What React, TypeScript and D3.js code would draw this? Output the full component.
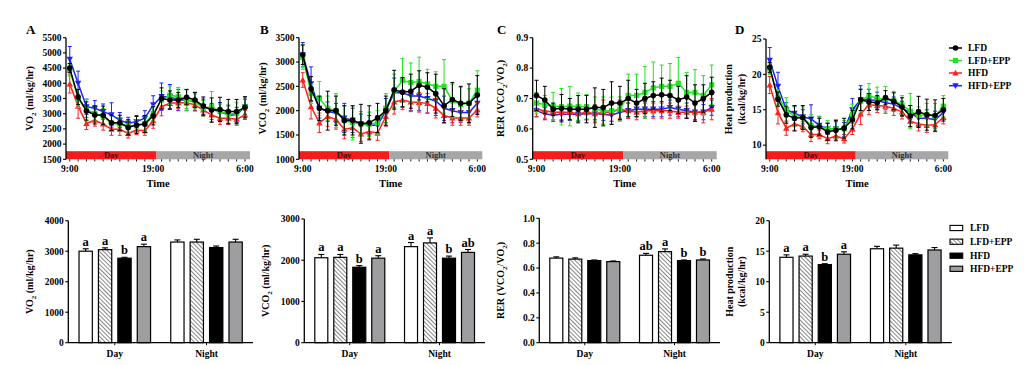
import React from 'react';
import * as d3 from 'd3';

// fonts / colours
const FONT = '"Liberation Serif", "Times New Roman", serif';
const groups = ['LFD', 'LFD+EPP', 'HFD', 'HFD+EPP'];
const lineColors = ['#000000', '#1ee61e', '#ff2020', '#2020ff'];
const barFills = ['#ffffff', 'url(#hatch)', '#000000', '#9e9ea0'];

// time axis (hourly points, 9:00 -> 6:00)
const timePoints = [0, 1, 2, 3, 4, 5, 6, 7, 8, 9, 10, 11, 12, 13, 14, 15, 16, 17, 18, 19, 20, 21];
const timeTickPos = [0, 10, 21];
const timeTickLabels = ['9:00', '19:00', '6:00'];

// ---- A: VO2 time course ----
const vo2LFD = [4500, 3550, 3090, 2960, 2950, 2700, 2700, 2550, 2630, 2660, 2930, 3500, 3450, 3450, 3540, 3450, 3250, 3120, 3140, 3070, 3070, 3210];
const vo2LFDEPP = [4440, 3500, 3120, 3010, 2920, 2680, 2660, 2600, 2600, 2680, 3010, 3450, 3610, 3560, 3450, 3400, 3180, 3230, 3070, 2990, 3010, 3230];
const vo2HFD = [3980, 3250, 2680, 2790, 2660, 2490, 2490, 2350, 2460, 2440, 2770, 3230, 3340, 3360, 3360, 3290, 3120, 2960, 2850, 2850, 2820, 2960];
const vo2HFDEPP = [4790, 4000, 3230, 3180, 3070, 2960, 2790, 2680, 2740, 2850, 3290, 3560, 3560, 3450, 3450, 3400, 3230, 3140, 3070, 2960, 2960, 3230];
const vo2LFDErr = [150, 250, 300, 300, 300, 250, 250, 250, 280, 280, 300, 350, 300, 250, 250, 250, 300, 400, 400, 400, 400, 350];
const vo2LFDEPPErr = [200, 300, 350, 250, 250, 250, 200, 200, 200, 250, 250, 300, 300, 300, 350, 250, 250, 500, 250, 300, 350, 300];
const vo2HFDErr = [300, 400, 200, 200, 200, 200, 200, 150, 150, 150, 250, 300, 200, 200, 200, 200, 200, 150, 200, 200, 200, 150];
const vo2HFDEPPErr = [420, 400, 250, 250, 250, 400, 250, 200, 200, 250, 300, 450, 400, 350, 350, 300, 250, 200, 300, 300, 250, 250];

// ---- B: VCO2 time course ----
const vco2LFD = [3150, 2450, 2050, 2000, 2000, 1800, 1800, 1730, 1750, 1850, 2000, 2430, 2380, 2400, 2520, 2480, 2350, 2100, 2230, 2150, 2150, 2320];
const vco2LFDEPP = [3100, 2350, 2250, 2050, 2000, 1800, 1750, 1730, 1720, 1750, 2050, 2400, 2620, 2580, 2600, 2550, 2500, 2500, 2200, 2130, 2150, 2420];
const vco2HFD = [2630, 2080, 1750, 1880, 1820, 1620, 1650, 1520, 1570, 1540, 1880, 2180, 2220, 2180, 2170, 2150, 2050, 1900, 1850, 1850, 1850, 2020];
const vco2HFDEPP = [3150, 2550, 2050, 1980, 1950, 1850, 1800, 1730, 1700, 1700, 2000, 2370, 2370, 2300, 2300, 2250, 2200, 2050, 2000, 1960, 1960, 2150];
const vco2LFDErr = [200, 250, 250, 400, 300, 300, 300, 400, 350, 300, 300, 400, 300, 350, 300, 300, 400, 350, 350, 350, 400, 400];
const vco2LFDEPPErr = [250, 200, 350, 250, 350, 300, 350, 250, 250, 250, 300, 350, 450, 400, 500, 300, 300, 550, 350, 350, 300, 400];
const vco2HFDErr = [150, 250, 200, 200, 200, 200, 200, 150, 150, 150, 200, 250, 200, 200, 200, 200, 200, 150, 150, 150, 150, 150];
const vco2HFDEPPErr = [250, 350, 200, 200, 200, 300, 250, 200, 200, 200, 250, 300, 300, 300, 300, 300, 300, 250, 250, 200, 200, 200];

// ---- C: RER time course ----
const rerLFD = [0.71, 0.695, 0.665, 0.668, 0.665, 0.665, 0.665, 0.67, 0.67, 0.685, 0.685, 0.7, 0.685, 0.7, 0.71, 0.712, 0.71, 0.695, 0.705, 0.685, 0.7, 0.72];
const rerLFDEPP = [0.685, 0.68, 0.675, 0.673, 0.675, 0.673, 0.673, 0.665, 0.66, 0.66, 0.665, 0.71, 0.71, 0.72, 0.735, 0.74, 0.74, 0.75, 0.72, 0.72, 0.71, 0.745];
const rerHFD = [0.665, 0.66, 0.655, 0.655, 0.655, 0.65, 0.655, 0.65, 0.655, 0.655, 0.665, 0.66, 0.655, 0.66, 0.66, 0.66, 0.66, 0.655, 0.655, 0.655, 0.655, 0.665];
const rerHFDEPP = [0.66, 0.65, 0.645, 0.648, 0.648, 0.648, 0.65, 0.65, 0.648, 0.645, 0.655, 0.66, 0.665, 0.665, 0.665, 0.665, 0.67, 0.665, 0.66, 0.655, 0.655, 0.67];
const rerLFDErr = [0.05, 0.045, 0.02, 0.045, 0.035, 0.045, 0.045, 0.065, 0.06, 0.07, 0.055, 0.06, 0.045, 0.05, 0.045, 0.055, 0.05, 0.045, 0.07, 0.06, 0.045, 0.05];
const rerLFDEPPErr = [0.035, 0.03, 0.045, 0.06, 0.065, 0.045, 0.04, 0.04, 0.045, 0.045, 0.04, 0.07, 0.07, 0.085, 0.085, 0.07, 0.075, 0.085, 0.065, 0.075, 0.065, 0.065];
const rerHFDErr = [0.025, 0.025, 0.025, 0.025, 0.025, 0.025, 0.025, 0.03, 0.04, 0.03, 0.03, 0.025, 0.025, 0.025, 0.025, 0.025, 0.025, 0.02, 0.02, 0.03, 0.035, 0.035];
const rerHFDEPPErr = [0.02, 0.02, 0.02, 0.02, 0.02, 0.02, 0.02, 0.02, 0.02, 0.02, 0.025, 0.025, 0.025, 0.025, 0.025, 0.025, 0.025, 0.025, 0.025, 0.025, 0.025, 0.025];

// ---- D: heat production time course ----
const heatLFD = [21.0, 16.5, 14.3, 13.8, 13.9, 12.5, 12.6, 11.9, 12.1, 12.4, 13.6, 16.4, 16.1, 16.0, 16.7, 16.2, 15.4, 14.1, 14.7, 14.3, 14.2, 15.0];
const heatLFDEPP = [20.8, 16.8, 15.0, 14.0, 13.9, 12.8, 12.6, 12.3, 12.3, 12.3, 14.3, 16.3, 17.0, 16.6, 16.5, 16.3, 15.7, 14.8, 14.2, 14.3, 14.1, 15.5];
const heatHFD = [18.5, 14.6, 12.4, 13.0, 12.6, 11.5, 11.5, 10.9, 11.3, 10.9, 12.3, 14.4, 15.7, 15.6, 15.5, 15.2, 14.7, 13.4, 13.0, 12.8, 12.9, 13.9];
const heatHFDEPP = [22.0, 18.3, 15.0, 14.5, 14.0, 13.7, 12.8, 12.3, 12.3, 12.2, 15.0, 16.4, 16.4, 16.3, 16.0, 15.8, 15.2, 14.6, 13.8, 13.8, 13.6, 14.6];
const heatLFDErr = [0.7, 1.0, 1.2, 1.8, 1.7, 1.4, 1.2, 1.2, 1.4, 1.4, 1.3, 1.5, 1.2, 1.0, 1.0, 1.2, 1.3, 1.5, 2.2, 2.2, 2.2, 1.6];
const heatLFDEPPErr = [0.8, 1.0, 1.7, 1.4, 1.5, 1.5, 1.5, 1.2, 1.3, 1.2, 1.5, 1.6, 1.7, 1.6, 1.8, 1.3, 1.3, 2.5, 1.2, 1.6, 1.8, 1.5];
const heatHFDErr = [1.2, 1.6, 1.0, 0.9, 0.7, 1.0, 0.6, 0.7, 0.7, 0.6, 0.8, 1.5, 1.4, 1.0, 1.0, 1.0, 1.0, 0.8, 1.0, 1.0, 1.0, 0.9];
const heatHFDEPPErr = [1.8, 2.0, 1.0, 1.0, 1.0, 2.0, 1.2, 0.8, 1.0, 1.0, 1.6, 2.0, 1.5, 1.2, 1.0, 1.0, 1.0, 1.0, 1.2, 1.2, 1.2, 1.0];

// ---- bottom row: Day / Night means ----
const periods = ['Day', 'Night'];
const vo2DayMean = [3000, 3050, 2770, 3150];
const vo2DaySem = [80, 60, 30, 80];
const vo2NightMean = [3300, 3300, 3120, 3300];
const vo2NightSem = [70, 90, 50, 90];
const vo2DayLetters = ['a', 'a', 'b', 'a'];
const vo2NightLetters = ['', '', '', ''];

const vco2DayMean = [2060, 2070, 1830, 2050];
const vco2DaySem = [80, 70, 40, 60];
const vco2NightMean = [2330, 2420, 2050, 2190];
const vco2NightSem = [100, 120, 50, 70];
const vco2DayLetters = ['a', 'a', 'b', 'a'];
const vco2NightLetters = ['a', 'a', 'b', 'ab'];

const rerDayMean = [0.68, 0.672, 0.66, 0.652];
const rerDaySem = [0.01, 0.01, 0.005, 0.005];
const rerNightMean = [0.703, 0.732, 0.66, 0.665];
const rerNightSem = [0.015, 0.022, 0.005, 0.008];
const rerDayLetters = ['', '', '', ''];
const rerNightLetters = ['ab', 'a', 'b', 'b'];

const heatDayMean = [14.0, 14.2, 12.8, 14.5];
const heatDaySem = [0.4, 0.3, 0.15, 0.4];
const heatNightMean = [15.4, 15.5, 14.4, 15.2];
const heatNightSem = [0.4, 0.5, 0.2, 0.4];
const heatDayLetters = ['a', 'a', 'b', 'a'];
const heatNightLetters = ['', '', '', ''];

// layout
const TOP_BOTTOM = 159.3;
const BAR_BOTTOM = 342.7;
const drawOrder = [3, 2, 1, 0];

// axis titles as text segments ([text, isSubscript])
const vo2Label = [[['VO', false], ['2', true], [' (ml/kg/hr)', false]]];
const vco2Label = [[['VCO', false], ['2', true], [' (ml/kg/hr)', false]]];
const rerLabel = [[['RER (VCO', false], ['2', true], ['/VO', false], ['2', true], [')', false]]];
const heatLabel = [[['Heat production', false]], [['(kcal/kg/hr)', false]]];

const Marker = ({ k, cx, cy, color }: any) => {
  if (k === 0) return <circle cx={cx} cy={cy} r={2.8} fill={color} />;
  if (k === 1) return <rect x={cx - 2.6} y={cy - 2.6} width={5.2} height={5.2} fill={color} />;
  const up = k === 2;
  const s = 3.2;
  const pts = up
    ? `${cx},${cy - s} ${cx + s},${cy + s * 0.8} ${cx - s},${cy + s * 0.8}`
    : `${cx},${cy + s} ${cx + s},${cy - s * 0.8} ${cx - s},${cy - s * 0.8}`;
  return <polygon points={pts} fill={color} />;
};

function YLabel({ x, cy, lines }: any) {
  return (
    <g>
      {lines.map((segs: any, i: number) => {
        let prevSub = false;
        return (
          <text key={i} transform={`translate(${x[i]},${cy}) rotate(-90)`} textAnchor="middle" dy="0.35em"
            fontFamily={FONT} fontWeight="bold" fontSize={10}>
            {segs.map(([t, sub]: any, j: number) => {
              const dy = sub === prevSub ? 0 : sub ? 2.5 : -2.5;
              prevSub = sub;
              return <tspan key={j} dy={dy} fontSize={sub ? 7 : 10}>{t}</tspan>;
            })}
          </text>
        );
      })}
    </g>
  );
}

function LinePanel({ cfg }: any) {
  const x = d3.scaleLinear().domain([-0.45, 21.6]).range([cfg.x0, cfg.x1]);
  const y = d3.scaleLinear().domain(cfg.domain).range([TOP_BOTTOM, cfg.yTop]);
  const fmt = cfg.fmt;
  const line = d3.line<number>().x((_, i) => x(timePoints[i])).y((d) => y(d));
  const split = 10.4;
  return (
    <g fontFamily={FONT} fontWeight="bold">
      <text x={cfg.lx} y={34} fontSize={13}>{cfg.letter}</text>
      {drawOrder.map((k) => {
        const s = cfg.series[k];
        const c = lineColors[k];
        return (
          <g key={k}>
            {s.values.map((v: number, i: number) => {
              const cx = x(timePoints[i]);
              const y1 = y(v + s.err[i]);
              const y2 = y(v - s.err[i]);
              return (
                <g key={i} stroke={c} strokeWidth={1}>
                  <line x1={cx} x2={cx} y1={y1} y2={y2} />
                  <line x1={cx - 2} x2={cx + 2} y1={y1} y2={y1} />
                  <line x1={cx - 2} x2={cx + 2} y1={y2} y2={y2} />
                </g>
              );
            })}
            <path d={line(s.values) || ''} fill="none" stroke={c} strokeWidth={1.5} />
            {s.values.map((v: number, i: number) => (
              <Marker key={i} k={k} cx={x(timePoints[i])} cy={y(v)} color={c} />
            ))}
          </g>
        );
      })}
      {/* day / night bar */}
      <rect x={x(-0.45)} y={151.2} width={x(split) - x(-0.45)} height={TOP_BOTTOM - 151.2} fill="#f41c1c" />
      <rect x={x(split)} y={151.2} width={x(21.6) - x(split)} height={TOP_BOTTOM - 151.2} fill="#a7a7a9" />
      <text x={(x(-0.45) + x(split)) / 2} y={155.3} dy="0.35em" textAnchor="middle" fontSize={8.5} fill="#3a1010">Day</text>
      <text x={(x(split) + x(21.6)) / 2} y={155.3} dy="0.35em" textAnchor="middle" fontSize={8.5} fill="#333">Night</text>
      {/* x ticks */}
      {timePoints.map((t) => (
        <line key={t} x1={x(t)} x2={x(t)} y1={TOP_BOTTOM} y2={TOP_BOTTOM + 2.2} stroke="#000" strokeWidth={0.9} />
      ))}
      {timeTickPos.map((t, i) => (
        <text key={t} x={x(t)} y={168.5} dy="0.35em" textAnchor="middle" fontSize={9.5}>{timeTickLabels[i]}</text>
      ))}
      <text x={(cfg.x0 + cfg.x1) / 2} y={183} dy="0.35em" textAnchor="middle" fontSize={10.5}>Time</text>
      {/* y axis */}
      <line x1={cfg.x0} x2={cfg.x0} y1={cfg.yTop} y2={TOP_BOTTOM} stroke="#000" strokeWidth={1.3} />
      {cfg.ticks.map((t: number) => (
        <g key={t}>
          <line x1={cfg.x0 - 3} x2={cfg.x0} y1={y(t)} y2={y(t)} stroke="#000" strokeWidth={1.1} />
          <text x={cfg.x0 - 4.5} y={y(t)} dy="0.35em" textAnchor="end" fontSize={9.5}>{fmt(t)}</text>
        </g>
      ))}
      <YLabel x={cfg.labelX} cy={(cfg.yTop + TOP_BOTTOM) / 2} lines={cfg.yLabel} />
    </g>
  );
}

function BarPanel({ cfg }: any) {
  const x = d3.scaleBand().domain(periods).range([cfg.x0, cfg.x1]).paddingInner(0.22).paddingOuter(0.117);
  const xi = d3.scaleBand().domain(groups).range([0, x.bandwidth()]).paddingInner(0.315);
  const y = d3.scaleLinear().domain(cfg.domain).range([BAR_BOTTOM, cfg.yTop]);
  const sets = [
    { p: 'Day', mean: cfg.dayMean, sem: cfg.daySem, letters: cfg.dayLetters },
    { p: 'Night', mean: cfg.nightMean, sem: cfg.nightSem, letters: cfg.nightLetters },
  ];
  return (
    <g fontFamily={FONT} fontWeight="bold">
      {sets.map((s) => (
        <g key={s.p}>
          {groups.map((g, k) => {
            const bx = (x(s.p) || 0) + (xi(g) || 0);
            const bw = xi.bandwidth();
            const cx = bx + bw / 2;
            const top = y(s.mean[k] + s.sem[k]);
            return (
              <g key={g}>
                <line x1={cx} x2={cx} y1={y(s.mean[k])} y2={top} stroke="#000" strokeWidth={1.1} />
                <line x1={cx - 3} x2={cx + 3} y1={top} y2={top} stroke="#000" strokeWidth={1.1} />
                <rect x={bx} y={y(s.mean[k])} width={bw} height={BAR_BOTTOM - y(s.mean[k])}
                  fill={barFills[k]} stroke="#000" strokeWidth={1.2} />
                {s.letters[k] && (
                  <text x={cx} y={top - 3} textAnchor="middle" fontSize={12.5}>{s.letters[k]}</text>
                )}
              </g>
            );
          })}
          <line x1={(x(s.p) || 0) + x.bandwidth() / 2} x2={(x(s.p) || 0) + x.bandwidth() / 2}
            y1={BAR_BOTTOM} y2={BAR_BOTTOM + 2.5} stroke="#000" strokeWidth={1} />
          <text x={(x(s.p) || 0) + x.bandwidth() / 2} y={354} dy="0.35em" textAnchor="middle" fontSize={9.5}>{s.p}</text>
        </g>
      ))}
      <line x1={cfg.x0} x2={cfg.x1} y1={BAR_BOTTOM} y2={BAR_BOTTOM} stroke="#000" strokeWidth={1.3} />
      <line x1={cfg.x0} x2={cfg.x0} y1={cfg.yTop} y2={BAR_BOTTOM} stroke="#000" strokeWidth={1.3} />
      {cfg.ticks.map((t: number) => (
        <g key={t}>
          <line x1={cfg.x0 - 3} x2={cfg.x0} y1={y(t)} y2={y(t)} stroke="#000" strokeWidth={1.1} />
          <text x={cfg.x0 - 4.5} y={y(t)} dy="0.35em" textAnchor="end" fontSize={9.5}>{cfg.fmt(t)}</text>
        </g>
      ))}
      <YLabel x={cfg.labelX} cy={(cfg.yTop + BAR_BOTTOM) / 2} lines={cfg.yLabel} />
    </g>
  );
}

const intFmt = (t: number) => String(t);
const dec1 = d3.format('.1f');

const topPanels = [
  {
    letter: 'A', lx: 26, x0: 66, x1: 250, yTop: 37.7, domain: [1500, 5500],
    ticks: [1500, 2000, 2500, 3000, 3500, 4000, 4500, 5000, 5500], fmt: intFmt, labelX: [33], yLabel: vo2Label,
    series: [
      { values: vo2LFD, err: vo2LFDErr }, { values: vo2LFDEPP, err: vo2LFDEPPErr },
      { values: vo2HFD, err: vo2HFDErr }, { values: vo2HFDEPP, err: vo2HFDEPPErr },
    ],
  },
  {
    letter: 'B', lx: 260, x0: 299, x1: 482.3, yTop: 37.7, domain: [1000, 3500],
    ticks: [1000, 1500, 2000, 2500, 3000, 3500], fmt: intFmt, labelX: [266], yLabel: vco2Label,
    series: [
      { values: vco2LFD, err: vco2LFDErr }, { values: vco2LFDEPP, err: vco2LFDEPPErr },
      { values: vco2HFD, err: vco2HFDErr }, { values: vco2HFDEPP, err: vco2HFDEPPErr },
    ],
  },
  {
    letter: 'C', lx: 497, x0: 532.7, x1: 716.7, yTop: 37.7, domain: [0.5, 0.9],
    ticks: [0.5, 0.6, 0.7, 0.8, 0.9], fmt: dec1, labelX: [504], yLabel: rerLabel,
    series: [
      { values: rerLFD, err: rerLFDErr }, { values: rerLFDEPP, err: rerLFDEPPErr },
      { values: rerHFD, err: rerHFDErr }, { values: rerHFDEPP, err: rerHFDEPPErr },
    ],
  },
  {
    letter: 'D', lx: 735, x0: 766, x1: 948.3, yTop: 39, domain: [8, 25],
    ticks: [10, 15, 20, 25], fmt: intFmt, labelX: [732, 745], yLabel: heatLabel,
    series: [
      { values: heatLFD, err: heatLFDErr }, { values: heatLFDEPP, err: heatLFDEPPErr },
      { values: heatHFD, err: heatHFDErr }, { values: heatHFDEPP, err: heatHFDEPPErr },
    ],
  },
];

const barPanels = [
  {
    x0: 68.3, x1: 253, yTop: 220.7, domain: [0, 4000], ticks: [0, 1000, 2000, 3000, 4000], fmt: intFmt,
    labelX: [33], yLabel: vo2Label,
    dayMean: vo2DayMean, daySem: vo2DaySem, nightMean: vo2NightMean, nightSem: vo2NightSem,
    dayLetters: vo2DayLetters, nightLetters: vo2NightLetters,
  },
  {
    x0: 304.3, x1: 485, yTop: 219, domain: [0, 3000], ticks: [0, 1000, 2000, 3000], fmt: intFmt,
    labelX: [269], yLabel: vco2Label,
    dayMean: vco2DayMean, daySem: vco2DaySem, nightMean: vco2NightMean, nightSem: vco2NightSem,
    dayLetters: vco2DayLetters, nightLetters: vco2NightLetters,
  },
  {
    x0: 539.3, x1: 720, yTop: 218.3, domain: [0, 1], ticks: [0, 0.2, 0.4, 0.6, 0.8, 1.0], fmt: dec1,
    labelX: [504], yLabel: rerLabel,
    dayMean: rerDayMean, daySem: rerDaySem, nightMean: rerNightMean, nightSem: rerNightSem,
    dayLetters: rerDayLetters, nightLetters: rerNightLetters,
  },
  {
    x0: 769.3, x1: 951.7, yTop: 220.7, domain: [0, 20], ticks: [0, 5, 10, 15, 20], fmt: intFmt,
    labelX: [733, 745], yLabel: heatLabel,
    dayMean: heatDayMean, daySem: heatDaySem, nightMean: heatNightMean, nightSem: heatNightSem,
    dayLetters: heatDayLetters, nightLetters: heatNightLetters,
  },
];

const topLegendY = [48, 60.5, 73, 85.7];
const barLegendY = [228, 241.7, 255.7, 268.8];

export default function App() {
  return (
    <svg width={1024} height={365} style={{ position: 'absolute', left: 0, top: 0, background: '#fff' }}>
      <defs>
        <pattern id="hatch" patternUnits="userSpaceOnUse" width={3} height={3} patternTransform="rotate(-45)">
          <rect width={3} height={3} fill="#ffffff" />
          <line x1={0} x2={0} y1={0} y2={3} stroke="#6a6a6a" strokeWidth={1.6} />
        </pattern>
      </defs>
      <rect width={1024} height={365} fill="#fff" />
      {topPanels.map((p) => <LinePanel key={p.letter} cfg={p} />)}
      {barPanels.map((p, i) => <BarPanel key={i} cfg={p} />)}
      {/* top legend */}
      <g fontFamily={FONT} fontWeight="bold" fontSize={9.5}>
        {groups.map((g, k) => (
          <g key={g}>
            <line x1={949} x2={962} y1={topLegendY[k]} y2={topLegendY[k]} stroke={lineColors[k]} strokeWidth={1.5} />
            <Marker k={k} cx={955.5} cy={topLegendY[k]} color={lineColors[k]} />
            <text x={968} y={topLegendY[k]} dy="0.35em">{g}</text>
          </g>
        ))}
      </g>
      {/* bar legend */}
      <g fontFamily={FONT} fontWeight="bold" fontSize={9.5}>
        {groups.map((g, k) => (
          <g key={g}>
            <rect x={950} y={barLegendY[k] - 2.6} width={12.7} height={5.2} fill={barFills[k]} stroke="#000" strokeWidth={1.1} />
            <text x={970} y={barLegendY[k]} dy="0.35em">{g}</text>
          </g>
        ))}
      </g>
    </svg>
  );
}
